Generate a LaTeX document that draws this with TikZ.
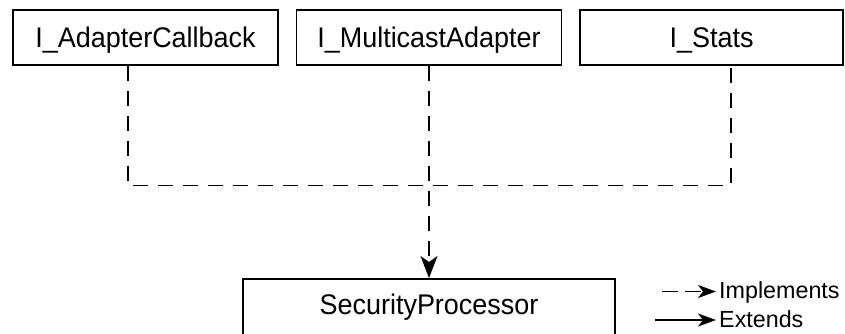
\documentclass[tikz,border=0pt]{standalone}
\usepackage{fontspec}
\setmainfont{Liberation Sans}
\newfontfamily\boxfont[FakeStretch=0.95]{Liberation Sans}
\usetikzlibrary{arrows.meta}
\tikzset{
  classbox/.style={draw, line width=1.7pt, inner sep=0pt, minimum height=55pt,
    font=\boxfont\fontsize{28.4}{30}\selectfont, text height=20.3pt, text depth=0pt},
  impl/.style={line width=1.7pt, dash pattern=on 15pt off 10pt},
  bigtip/.style={-{Stealth[length=22pt,width=17pt,inset=6pt]}},
  smalltip/.style={-{Stealth[length=18pt,width=13pt,inset=5pt]}},
  legendtext/.style={inner sep=0pt, anchor=base west, font=\fontsize{23.3}{25}\selectfont}
}
\begin{document}
\begin{tikzpicture}[x=1pt,y=-1pt]
\useasboundingbox (0,0) rectangle (845,333);
\clip (0,0) rectangle (845,333);
\fill[white] (0,0) rectangle (845,333);
% interface boxes
\node[classbox, minimum width=265pt] (b1) at (145.5,37.5) {I\_AdapterCallback};
\node[classbox, minimum width=265pt] (b2) at (429,37.5) {I\_MulticastAdapter};
\node[classbox, minimum width=263pt] (b3) at (711.5,37.5) {I\_Stats};
% implementing class (cut off at the bottom)
\node[draw, line width=1.7pt, anchor=north, minimum width=372pt, inner xsep=0pt, inner ysep=15.8pt,
  font=\boxfont\fontsize{28.4}{30}\selectfont, text height=20.3pt, text depth=50pt]
  (sp) at (429,278) {SecurityProcessor};
% connectors
\coordinate (j1) at (128,185.5);
\coordinate (j3) at (731,185.5);
\draw[impl] (b1.south -| j1) -- (j1) -- (j3) -- (b3.south -| j3);
\draw[impl, bigtip] (b2.south) -- (sp.north);
% legend
\coordinate (li1) at (662,291.5);
\coordinate (li2) at (716,291.5);
\coordinate (le1) at (655,320);
\coordinate (le2) at (716,320);
\draw[line width=1.7pt, dash pattern=on 16pt off 7pt, smalltip] (li1) -- (li2);
\draw[line width=1.7pt, smalltip] (le1) -- (le2);
\node[legendtext] (limpl) at (719,298.3) {Implements};
\node[legendtext] (lext) at (719,327.7) {Extends};
\end{tikzpicture}
\end{document}
